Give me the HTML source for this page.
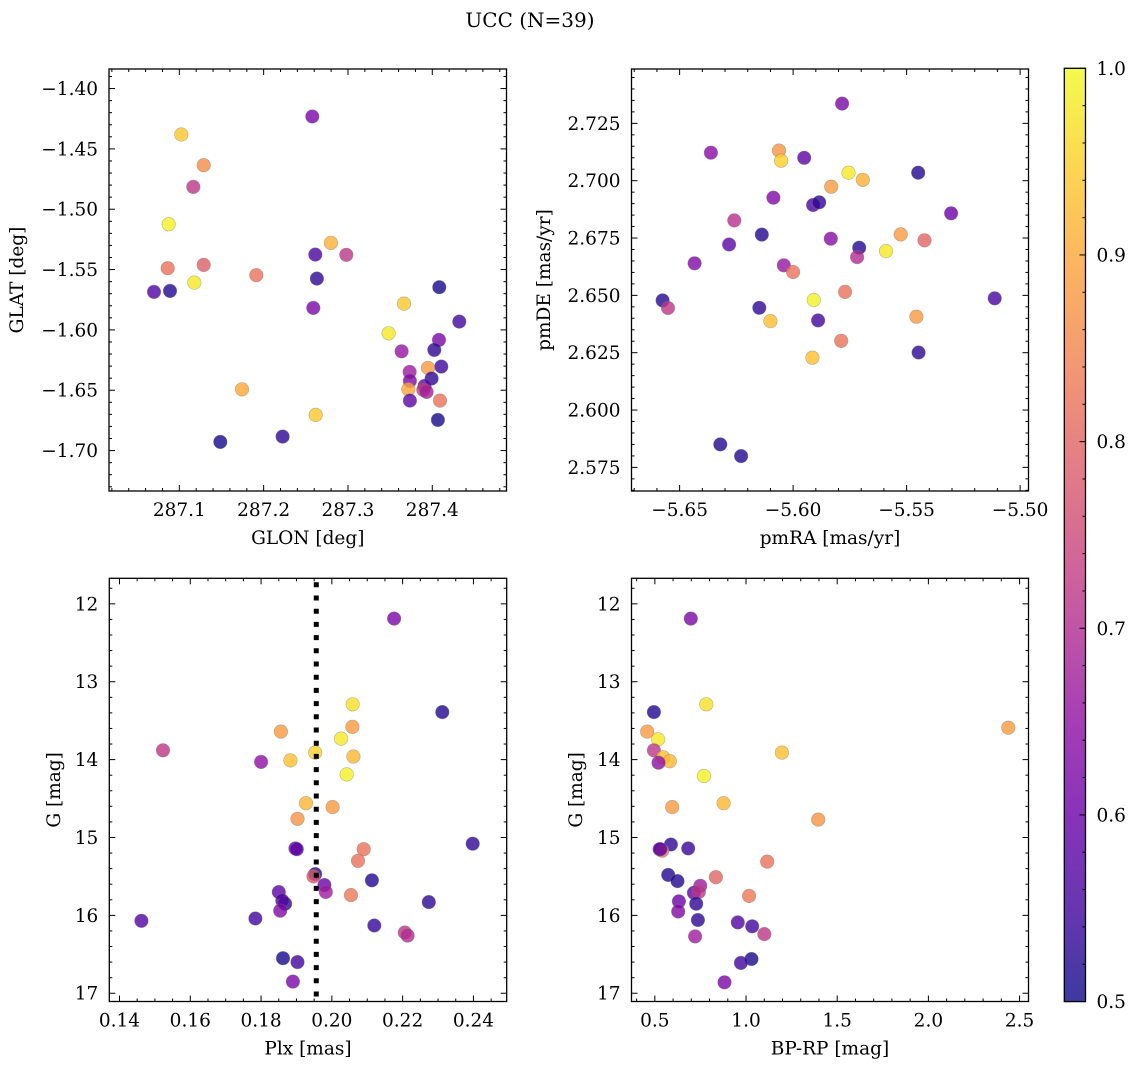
<!DOCTYPE html>
<html><head><meta charset="utf-8">
<style>
html,body{margin:0;padding:0;background:#fff;}
svg{display:block;font-family:"DejaVu Serif","Liberation Serif",serif;}
</style></head>
<body>
<svg id="fig" width="1136" height="1068" viewBox="0 0 1136 1068" xmlns="http://www.w3.org/2000/svg">
<text x="530" y="27" font-size="20" text-anchor="middle">UCC (N=39)</text>
</svg>
<script>
// Panel 1: GLON / GLAT
const glonX = [287.2577,287.1024,287.1289,287.1166,287.0874,287.2798,287.2613,287.2980,287.0862,287.1289,287.1913,287.2632,287.1178,287.0700,287.0889,287.4083,287.2589,287.3664,287.4320,287.3482,287.4079,287.4024,287.3636,287.4107,287.3949,287.3731,287.3992,287.3735,287.3909,287.3715,287.3893,287.3933,287.3735,287.4091,287.1743,287.4067,287.2617,287.2225,287.1486];
const glatY = [-1.4232,-1.4381,-1.4635,-1.4815,-1.5124,-1.5279,-1.5376,-1.5378,-1.5489,-1.5461,-1.5547,-1.5575,-1.5608,-1.5685,-1.5677,-1.5646,-1.5818,-1.5782,-1.5931,-1.6028,-1.6083,-1.6166,-1.6177,-1.6304,-1.6315,-1.6348,-1.6403,-1.6423,-1.6464,-1.6492,-1.6497,-1.6514,-1.6586,-1.6586,-1.6492,-1.6746,-1.6704,-1.6884,-1.6928];
const p1C = [0.62,0.94,0.86,0.72,0.99,0.91,0.56,0.72,0.82,0.79,0.82,0.53,0.98,0.57,0.52,0.51,0.62,0.94,0.55,0.98,0.62,0.53,0.66,0.55,0.88,0.67,0.53,0.63,0.58,0.90,0.73,0.68,0.58,0.82,0.90,0.51,0.94,0.53,0.51];
// Panel 2: pmRA / pmDE
const pmraX = [-5.5784,-5.6362,-5.6062,-5.6053,-5.5951,-5.5756,-5.5693,-5.5449,-5.5832,-5.6087,-5.5912,-5.5885,-5.5304,-5.6259,-5.6138,-5.6282,-5.5834,-5.5709,-5.5718,-5.5526,-5.5421,-5.5591,-5.6434,-5.6041,-5.6000,-5.5771,-5.6575,-5.6551,-5.5909,-5.5112,-5.6149,-5.6100,-5.5890,-5.5457,-5.5788,-5.5447,-5.5915,-5.6321,-5.6229];
const pmdeY = [2.7336,2.7122,2.7131,2.7087,2.7100,2.7035,2.7004,2.7035,2.6974,2.6926,2.6894,2.6906,2.6858,2.6827,2.6765,2.6722,2.6747,2.6708,2.6667,2.6766,2.6740,2.6693,2.6640,2.6631,2.6602,2.6515,2.6478,2.6445,2.6480,2.6487,2.6446,2.6388,2.6391,2.6407,2.6302,2.6251,2.6228,2.5850,2.5799];
const p2C = [0.62,0.64,0.87,0.95,0.58,0.98,0.91,0.52,0.88,0.63,0.56,0.53,0.60,0.71,0.52,0.58,0.64,0.52,0.70,0.88,0.80,0.98,0.63,0.66,0.82,0.82,0.52,0.72,0.99,0.56,0.53,0.93,0.55,0.88,0.82,0.53,0.93,0.52,0.52];
// Panel 3: Plx / G
const plxX = [0.2176,0.2312,0.2059,0.2058,0.1856,0.2026,0.1523,0.1953,0.2061,0.1800,0.1883,0.2042,0.1927,0.2002,0.1903,0.2398,0.1897,0.1901,0.2090,0.2074,0.2113,0.1953,0.1948,0.1979,0.1983,0.2054,0.1850,0.1868,0.1860,0.1854,0.2274,0.1462,0.1784,0.2120,0.2206,0.2214,0.1862,0.1903,0.1890];
const plxG = [12.19,13.39,13.29,13.58,13.64,13.73,13.88,13.91,13.96,14.03,14.01,14.19,14.56,14.61,14.76,15.08,15.14,15.15,15.15,15.30,15.55,15.47,15.50,15.61,15.70,15.74,15.70,15.85,15.81,15.94,15.83,16.07,16.04,16.13,16.22,16.26,16.55,16.60,16.85];
const p3C = [0.62,0.52,0.97,0.88,0.88,0.98,0.72,0.95,0.92,0.65,0.93,0.99,0.92,0.88,0.87,0.53,0.60,0.58,0.82,0.82,0.52,0.52,0.78,0.60,0.67,0.83,0.58,0.53,0.57,0.63,0.53,0.57,0.55,0.54,0.72,0.70,0.51,0.55,0.62];
const plxLine = 0.1956;
// Panel 4: BP-RP / G
const bprpX = [0.697,0.495,0.782,2.438,0.458,0.518,0.495,0.546,0.582,0.520,1.197,0.769,0.877,0.595,1.396,0.588,0.526,0.540,0.683,1.116,0.835,0.573,0.624,0.749,0.714,0.741,1.017,0.727,0.632,0.628,0.736,0.955,1.034,1.100,0.721,1.030,0.972,0.882,0.530];
const bprpG = [12.19,13.39,13.29,13.59,13.64,13.74,13.88,13.97,14.02,14.04,13.91,14.21,14.56,14.61,14.77,15.09,15.15,15.17,15.14,15.31,15.51,15.48,15.56,15.62,15.71,15.70,15.75,15.85,15.82,15.95,16.06,16.09,16.14,16.24,16.27,16.56,16.61,16.86,15.15];
const p4C = [0.62,0.52,0.97,0.88,0.88,0.98,0.72,0.93,0.92,0.65,0.93,0.99,0.92,0.88,0.87,0.53,0.60,0.82,0.54,0.82,0.80,0.52,0.52,0.67,0.58,0.72,0.83,0.53,0.60,0.63,0.53,0.57,0.55,0.72,0.67,0.51,0.55,0.62,0.58];
// tick label arrays
const p1XTicks = [287.1,287.2,287.3,287.4];
const p1YTicks = [-1.40,-1.45,-1.50,-1.55,-1.60,-1.65,-1.70];
const p2XTicks = [-5.65,-5.60,-5.55,-5.50];
const p2YTicks = [2.575,2.600,2.625,2.650,2.675,2.700,2.725];
const p3XTicks = [0.14,0.16,0.18,0.20,0.22,0.24];
const gTicks = [12,13,14,15,16,17];
const p4XTicks = [0.5,1.0,1.5,2.0,2.5];
const cbTicks = [0.5,0.6,0.7,0.8,0.9,1.0];

const FS = 18.5;
const NS = "http://www.w3.org/2000/svg";
const svg = document.getElementById('fig');
function mk(tag, attrs, parent){
  const e = document.createElementNS(NS, tag);
  for (const k in attrs) e.setAttribute(k, attrs[k]);
  (parent||svg).appendChild(e);
  return e;
}
const stops = ['#0d0887','#41049d','#6a00a8','#8f0da4','#b12a90','#cc4778','#e16462','#f2844b','#fca636','#fcce25','#f0f921'];
function hex(h){return [parseInt(h.slice(1,3),16),parseInt(h.slice(3,5),16),parseInt(h.slice(5,7),16)];}
function plasma(t){
  t=Math.max(0,Math.min(1,t));
  const f=t*10, i=Math.min(9,Math.floor(f)), u=f-i;
  const a=hex(stops[i]), b=hex(stops[i+1]);
  return 'rgb('+a.map((v,k)=>Math.round(v+(b[k]-v)*u)).join(',')+')';
}
function cmap(c){return plasma((c-0.5)/0.5);}
function fmt(v,d){const s=Math.abs(v).toFixed(d);return (v<0?'\u2212':'')+s;}

function panel(o){
  const g = mk('g',{});
  
  
  const L=o.L,R=o.R,T=o.T,B=o.B;
  const sx = v => L + (v-o.xmin)/(o.xmax-o.xmin)*(R-L);
  const sy = o.yinv ? (v => T + (v-o.ymin)/(o.ymax-o.ymin)*(B-T)) : (v => B - (v-o.ymin)/(o.ymax-o.ymin)*(B-T));
  const pg = mk('g',{},g);
  
  
  for(let i=0;i<o.xs.length;i++){
    const c = mk('circle',{cx:sx(o.xs[i]).toFixed(1),cy:sy(o.ys[i]).toFixed(1),r:6.8,fill:cmap(o.cs[i]),'fill-opacity':0.8,stroke:'#777','stroke-opacity':0.5,'stroke-width':0.6},pg);
    
    
  }
  if(o.vline!==undefined){
    const l = mk('line',{x1:sx(o.vline),x2:sx(o.vline),y1:T+4,y2:B,stroke:'#000','stroke-width':5,'stroke-dasharray':'5,8.2'},g);
    
    
  }
  const fr = mk('rect',{x:L,y:T,width:R-L,height:B-T,fill:'none',stroke:'#000','stroke-width':1.3},g);
  
  
  const xt = mk('g',{},g);
  
  
  const eps=1e-9;
  let start=Math.ceil((o.xmin)/o.xminor-eps);
  for(let k=start;k*o.xminor<=o.xmax+eps;k++){
    const v=k*o.xminor, x=sx(v);
    const isMaj = o.xticks.some(t=>Math.abs(t-v)<o.xminor/10);
    const len=isMaj?6:3;
    mk('line',{x1:x,x2:x,y1:B,y2:B-len,stroke:'#000','stroke-width':1},xt);
    mk('line',{x1:x,x2:x,y1:T,y2:T+len,stroke:'#000','stroke-width':1},xt);
  }
  o.xticks.forEach(v=>{
    const t=mk('text',{x:sx(v),y:B+25,'font-size':FS,'text-anchor':'middle'},xt);
    t.textContent=fmt(v,o.xdec);
  });
  const xl=mk('text',{x:(L+R)/2,y:B+53,'font-size':FS,'text-anchor':'middle'},xt);
  
  
  xl.textContent=o.xlabel;
  const yt = mk('g',{},g);
  
  
  const ylo=Math.min(o.ymin,o.ymax), yhi=Math.max(o.ymin,o.ymax);
  start=Math.ceil(ylo/o.yminor-eps);
  for(let k=start;k*o.yminor<=yhi+eps;k++){
    const v=k*o.yminor, y=sy(v);
    const isMaj = o.yticks.some(t=>Math.abs(t-v)<o.yminor/10);
    const len=isMaj?6:3;
    mk('line',{x1:L,x2:L+len,y1:y,y2:y,stroke:'#000','stroke-width':1},yt);
    mk('line',{x1:R,x2:R-len,y1:y,y2:y,stroke:'#000','stroke-width':1},yt);
  }
  o.yticks.forEach(v=>{
    const t=mk('text',{x:L-11,y:sy(v)+6.5,'font-size':FS,'text-anchor':'end'},yt);
    t.textContent=fmt(v,o.ydec);
  });
  const yx=o.ylabx, yy=(T+B)/2;
  const yl=mk('text',{x:yx,y:yy,'font-size':FS,'text-anchor':'middle',transform:'rotate(-90 '+yx+' '+yy+')'},yt);
  
  
  yl.textContent=o.ylabel;
}

panel({name:'glon-glat-panel',L:109,R:506.5,T:69,B:491,xmin:287.0166,xmax:287.488,ymin:-1.7335,ymax:-1.3838,
  xs:glonX,ys:glatY,cs:p1C,xticks:p1XTicks,yticks:p1YTicks,xminor:0.02,yminor:0.01,xdec:1,ydec:2,
  xlabel:'GLON [deg]',ylabel:'GLAT [deg]',ylabx:23});
panel({name:'pm-panel',L:631.5,R:1028.5,T:69,B:491,xmin:-5.6712,xmax:-5.4963,ymin:2.5647,ymax:2.7487,
  xs:pmraX,ys:pmdeY,cs:p2C,xticks:p2XTicks,yticks:p2YTicks,xminor:0.01,yminor:0.005,xdec:2,ydec:3,
  xlabel:'pmRA [mas/yr]',ylabel:'pmDE [mas/yr]',ylabx:550});
panel({name:'plx-g-panel',L:109.3,R:506.7,T:578.3,B:1001.5,xmin:0.13712,xmax:0.2494,ymin:11.672,ymax:17.106,yinv:true,
  xs:plxX,ys:plxG,cs:p3C,xticks:p3XTicks,yticks:gTicks,xminor:0.005,yminor:0.2,xdec:2,ydec:0,
  xlabel:'Plx [mas]',ylabel:'G [mag]',ylabx:60,vline:plxLine});
panel({name:'color-g-panel',L:631.5,R:1028.5,T:578.3,B:1001.5,xmin:0.372,xmax:2.549,ymin:11.672,ymax:17.106,yinv:true,
  xs:bprpX,ys:bprpG,cs:p4C,xticks:p4XTicks,yticks:gTicks,xminor:0.1,yminor:0.2,xdec:1,ydec:0,
  xlabel:'BP-RP [mag]',ylabel:'G [mag]',ylabx:582});

(function(){
  const L=1064.3,R=1085.5,T=68.3,B=1001.6,vmin=0.5,vmax=1.0;
  const g=mk('g',{});
  
  
  const defs=mk('defs',{},g);
  const lg=mk('linearGradient',{id:'cbg',x1:0,y1:1,x2:0,y2:0},defs);
  for(let i=0;i<=20;i++){
    mk('stop',{offset:(i/20),'stop-color':plasma(i/20)},lg);
  }
  const r=mk('rect',{x:L,y:T,width:R-L,height:B-T,fill:'url(#cbg)','fill-opacity':0.8},g);
  
  
  mk('rect',{x:L,y:T,width:R-L,height:B-T,fill:'none',stroke:'#000','stroke-width':1.3},g);
  const sy=v=>B-(v-vmin)/(vmax-vmin)*(B-T);
  for(let k=25;k<=50;k++){
    const v=k*0.02, y=sy(v);
    const maj=(k%5===0);
    mk('line',{x1:R,x2:R-(maj?6:3),y1:y,y2:y,stroke:'#000','stroke-width':1},g);
  }
  cbTicks.forEach(v=>{
    const t=mk('text',{x:R+11,y:sy(v)+6.5,'font-size':FS},g);
    
    
    t.textContent=v.toFixed(1);
  });
})();
</script>
</body></html>
